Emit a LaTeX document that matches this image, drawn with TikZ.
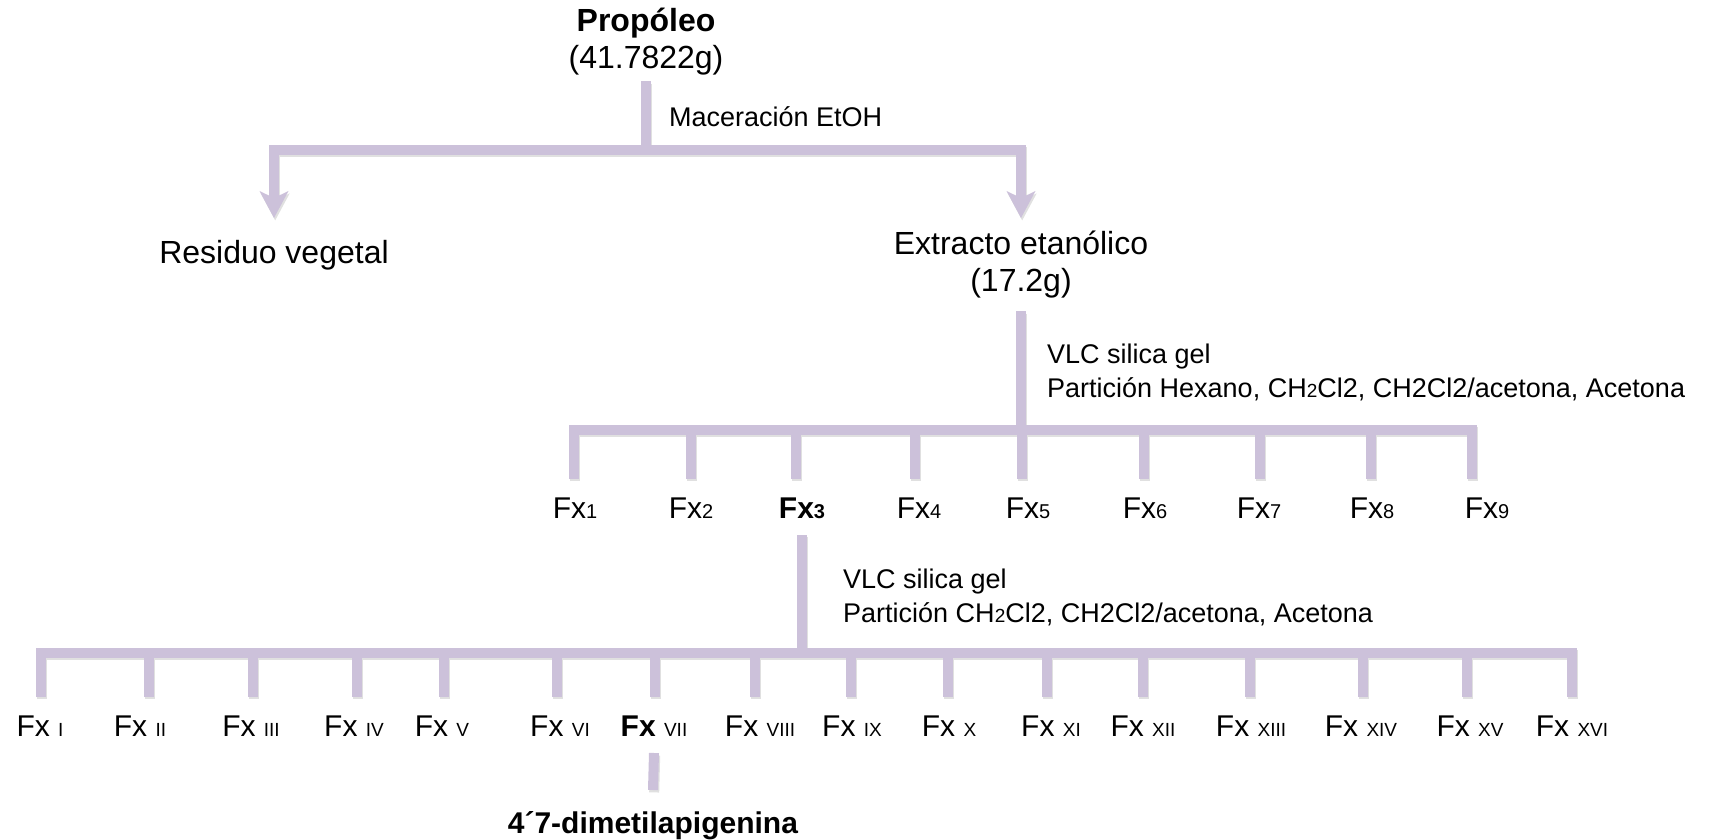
\documentclass[tikz,border=0pt]{standalone}
\usepackage{fontspec}
\setmainfont{Liberation Sans}
\usetikzlibrary{arrows.meta,calc}
\definecolor{lila}{RGB}{204,193,218}
\def\fxa#1{Fx{\fontsize{20}{20}\selectfont#1}}
\def\fxr#1{Fx {\fontsize{19}{19}\selectfont#1}}
\tikzset{
  rama/.style     = {line width=10pt, draw=lila},
  sombra/.style   = {line width=10pt, draw=black!12, transform canvas={shift={(1.2pt,-2.4pt)}}},
  flecha/.style   = {-{Stealth[length=27pt,width=29pt,inset=7pt,line width=0pt]}},
  texto/.style    = {inner sep=0pt, font=\fontsize{32}{37}\selectfont, align=center},
  paso/.style     = {inner sep=0pt, font=\fontsize{27}{34}\selectfont, align=left, anchor=west},
  fraccion/.style = {inner sep=0pt, font=\fontsize{30}{30}\selectfont, anchor=base,
                     text height=22pt, text depth=0pt, outer ysep=17pt},
}
\begin{document}
\begin{tikzpicture}[x=1pt,y=-1pt]
\useasboundingbox (0,0) rectangle (1717,840);
%---------------------------------------------
\node[texto, anchor=north, outer ysep=6pt] (prop) at (646,2) {\textbf{Propóleo}\\(41.7822g)};
\node[paso, anchor=base west] (mac) at (669,127) {Maceración EtOH};
\node[texto, anchor=base, text height=23pt, outer ysep=22pt] (res) at (274,263) {Residuo vegetal};
\node[texto, anchor=north, outer ysep=13pt] (ext) at (1021,218) {Extracto etanólico\\(17.2g)};
\node[paso] (vlc1) at (1047,372) {VLC silica gel\\Partición Hexano, CH{\fontsize{19}{19}\selectfont 2}Cl2, CH2Cl2/acetona, Acetona};
\node[paso] (vlc2) at (843,597) {VLC silica gel\\Partición CH{\fontsize{19}{19}\selectfont 2}Cl2, CH2Cl2/acetona, Acetona};
\coordinate (j0) at (646,150);
\coordinate (j1) at (1021,430);
%--------------------------------------------- fracciones
\foreach \xt/\xl/\n [count=\i] in {574/575/{\fxa1}, 691/691/{\fxa2}, 796/802/{\textbf{\fxa3}},
    915/919/{\fxa4}, 1022/1028/{\fxa5}, 1144/1145/{\fxa6}, 1260/1259/{\fxa7},
    1371/1372/{\fxa8}, 1472/1487/{\fxa9}}
  { \coordinate (u\i) at (\xt,430);
    \node[fraccion] (f\i) at (\xl,518) {\n}; }
\foreach \xt/\xl/\n [count=\i] in {41/40/{\fxr{I}}, 149/140/{\fxr{II}}, 253/251/{\fxr{III}},
    357/354/{\fxr{IV}}, 444/442/{\fxr{V}}, 557/560/{\fxr{VI}}, 655/654/{\textbf{Fx} {\fontsize{19}{19}\selectfont VII}},
    755/760/{\fxr{VIII}}, 851/852/{\fxr{IX}}, 948/949/{\fxr{X}}, 1047/1051/{\fxr{XI}},
    1143/1143/{\fxr{XII}}, 1250/1251/{\fxr{XIII}}, 1363/1361/{\fxr{XIV}}, 1467/1470/{\fxr{XV}},
    1572/1572/{\fxr{XVI}}}
  { \coordinate (l\i) at (\xt,653);
    \node[fraccion] (g\i) at (\xl,736) {\n}; }
\node[fraccion, outer ysep=21pt] (dime) at (653,833) {\textbf{4´7-dimetilapigenina}};
%--------------------------------------------- ramas
\def\arbol#1{
  \draw[#1] (prop.south) -- (j0);
  \draw[#1,flecha] (j0) -| (res.north);
  \draw[#1,flecha] (j0) -| (ext.north);
  \draw[#1] (ext.south) -- (j1);
  \draw[#1] (u1 |- f1.north) -- (u1) -- (u9) -- (u9 |- f9.north);
  \foreach \i in {2,...,8} \draw[#1] (u\i) -- (u\i |- f\i.north);
  \draw[#1] (f3.south) -- (f3.south |- l1);
  \draw[#1] (l1 |- g1.north) -- (l1) -- (l16) -- (l16 |- g16.north);
  \foreach \i in {2,...,15} \draw[#1] (l\i) -- (l\i |- g\i.north);
  \draw[#1] (g7.south) -- (dime.north);
}
\arbol{sombra}
\arbol{rama}
\end{tikzpicture}
\end{document}
